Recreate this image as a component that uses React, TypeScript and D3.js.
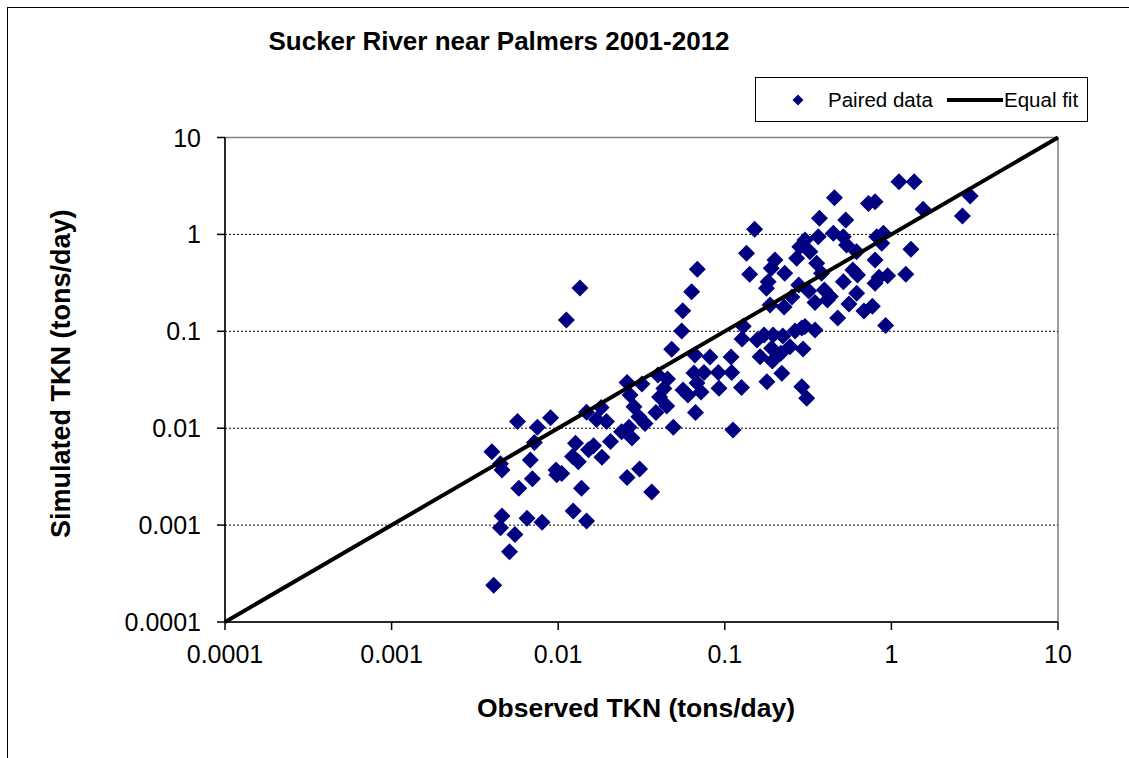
import React from "react";
import * as d3 from "d3";

const observed = [
  0.0040, 0.0045, 0.0046, 0.0057, 0.0075, 0.0090, 0.0072, 0.0068, 0.0070, 0.0058,
  0.0097, 0.0098, 0.0046, 0.0045, 0.0055, 0.0065, 0.0080, 0.0123, 0.0148, 0.0051,
  0.0041, 0.0138, 0.0105, 0.0112, 0.0135, 0.0122, 0.0127, 0.0132, 0.0152, 0.0163,
  0.0183, 0.0206, 0.0148, 0.0181, 0.0170, 0.0195, 0.0240, 0.0277, 0.0266, 0.0259,
  0.0318, 0.0270, 0.0285, 0.0305, 0.0259, 0.0308, 0.0364, 0.0406, 0.0386, 0.0448,
  0.0431, 0.0561, 0.0601, 0.0681, 0.0720, 0.0667, 0.0923, 0.0491, 0.112, 0.0397,
  0.0453, 0.0332, 0.0662, 0.0815, 0.109, 0.0653, 0.075, 0.0914, 0.110, 0.126,
  0.179, 0.220, 0.163, 0.193, 0.191, 0.217, 0.246, 0.129, 0.127, 0.156,
  0.172, 0.195, 0.223, 0.264, 0.290, 0.348, 0.295, 0.290, 0.310, 0.187,
  0.227, 0.253, 0.348, 0.413, 0.556, 0.684, 0.769, 0.476, 0.923, 0.303,
  0.381, 0.626, 0.843, 0.949, 1.22, 0.515, 0.278, 0.319, 0.396, 0.430,
  0.619, 0.455, 0.728, 0.798, 0.370, 0.532, 0.151, 0.135, 0.141, 0.200,
  0.190, 0.229, 0.182, 0.178, 0.282, 0.303, 0.270, 0.324, 0.364, 0.448,
  0.514, 0.538, 0.618, 0.356, 0.587, 0.798, 0.817, 0.798, 1.11, 1.37,
  1.55, 2.97, 2.67, 0.896, 0.875, 1.31, 0.0684, 0.0632, 0.0559, 0.0551,
  0.048,
];

const simulated = [
  0.0057, 0.0043, 0.0037, 0.0117, 0.0102, 0.0128, 0.0071, 0.0047, 0.0030, 0.0024,
  0.0037, 0.0033, 0.00124, 0.00094, 0.00080, 0.00118, 0.00107, 0.0014, 0.0011, 0.00053,
  0.00024, 0.0024, 0.0034, 0.131, 0.279, 0.0051, 0.0070, 0.0045, 0.0060, 0.0066,
  0.0050, 0.0073, 0.0146, 0.0164, 0.0123, 0.0117, 0.0092, 0.0079, 0.0102, 0.0296,
  0.0286, 0.0220, 0.0166, 0.0131, 0.0031, 0.0038, 0.0022, 0.0210, 0.0145, 0.0169,
  0.0257, 0.0248, 0.0220, 0.0293, 0.0237, 0.0145, 0.0258, 0.0102, 0.0096, 0.0354,
  0.0322, 0.0112, 0.0569, 0.0543, 0.0543, 0.0371, 0.0376, 0.0376, 0.0376, 0.0263,
  0.0302, 0.0369, 0.0547, 0.0494, 0.0668, 0.0593, 0.0693, 0.113, 0.0833, 0.0813,
  0.0916, 0.0916, 0.0894, 0.1007, 0.108, 0.103, 0.0656, 0.0268, 0.0204, 0.187,
  0.178, 0.226, 0.198, 0.210, 0.191, 0.162, 0.181, 0.137, 0.115, 0.112,
  0.397, 0.381, 0.361, 0.374, 0.388, 0.325, 0.301, 0.261, 0.267, 0.228,
  0.247, 2.39, 2.09, 2.17, 1.47, 1.41, 1.13, 0.638, 0.388, 0.545,
  0.447, 0.397, 0.325, 0.278, 0.747, 0.875, 0.566, 0.662, 0.946, 1.03,
  0.946, 0.778, 0.662, 0.503, 0.430, 0.545, 0.946, 0.313, 3.50, 3.50,
  1.82, 2.49, 1.55, 1.03, 0.809, 0.702, 0.437, 0.256, 0.163, 0.101,
  0.0652,
];

const tickValues = [0.0001, 0.001, 0.01, 0.1, 1, 10];
const tickLabels = ["0.0001", "0.001", "0.01", "0.1", "1", "10"];
const gridValues = [0.001, 0.01, 0.1, 1];
const fitLine = [0.0001, 10];

const title = "Sucker River near Palmers 2001-2012";
const xTitle = "Observed TKN (tons/day)";
const yTitle = "Simulated TKN (tons/day)";

const FONT = "'Liberation Sans', Arial, sans-serif";
const NAVY = "#000080";

export default function App() {
  const W = 1129;
  const H = 758;
  const left = 225;
  const right = 1058;
  const top = 137.5;
  const bottom = 622;

  const x = d3.scaleLog().domain([0.0001, 10]).range([left, right]);
  const y = d3.scaleLog().domain([0.0001, 10]).range([bottom, top]);

  const diamond = (cx: number, cy: number, r: number) =>
    `M${cx},${cy - r}L${cx + r},${cy}L${cx},${cy + r}L${cx - r},${cy}Z`;

  const line = d3
    .line<number>()
    .x((d) => x(d))
    .y((d) => y(d));

  return (
    <svg
      width={W}
      height={H}
      style={{ position: "absolute", left: 0, top: 0, background: "#fff" }}
      fontFamily={FONT}
    >
      <rect x={0} y={0} width={W} height={H} fill="#fff" />
      {/* outer chart border */}
      <rect x={7.5} y={7.5} width={W + 20} height={H + 20} fill="none" stroke="#000" strokeWidth={1} />

      {/* title */}
      <text x={499} y={50} textAnchor="middle" fontSize={26} fontWeight="bold" fill="#000">
        {title}
      </text>

      {/* plot frame */}
      <rect x={left} y={top} width={right - left} height={bottom - top} fill="#fff" stroke="#808080" strokeWidth={1.5} />

      {/* gridlines */}
      {gridValues.map((g) => (
        <line key={"g" + g} x1={left} x2={right} y1={y(g)} y2={y(g)} stroke="#000" strokeWidth={1} strokeDasharray="2,2" />
      ))}

      {/* axes */}
      <line x1={left} x2={left} y1={top} y2={bottom} stroke="#000" strokeWidth={1.5} />
      <line x1={left} x2={right} y1={bottom} y2={bottom} stroke="#000" strokeWidth={1.5} />

      {tickValues.map((t, i) => (
        <g key={"yt" + t}>
          <line x1={left - 8} x2={left} y1={y(t)} y2={y(t)} stroke="#000" strokeWidth={1.5} />
          <text x={201} y={y(t) + 9} textAnchor="end" fontSize={25} fill="#000">
            {tickLabels[i]}
          </text>
        </g>
      ))}
      {tickValues.map((t, i) => (
        <g key={"xt" + t}>
          <line x1={x(t)} x2={x(t)} y1={bottom} y2={bottom + 8} stroke="#000" strokeWidth={1.5} />
          <text x={x(t)} y={663} textAnchor="middle" fontSize={25} fill="#000">
            {tickLabels[i]}
          </text>
        </g>
      ))}

      {/* axis titles */}
      <text x={636} y={717} textAnchor="middle" fontSize={26.5} fontWeight="bold" fill="#000">
        {xTitle}
      </text>
      <text
        transform={`translate(70,${(top + bottom) / 2 - 6}) rotate(-90)`}
        textAnchor="middle"
        fontSize={27}
        fontWeight="bold"
        fill="#000"
      >
        {yTitle}
      </text>

      {/* points */}
      {observed.map((o, i) => (
        <path key={"p" + i} d={diamond(x(o), y(simulated[i]), 8.5)} fill={NAVY} />
      ))}

      {/* equal fit line */}
      <path d={line(fitLine) || ""} stroke="#000" strokeWidth={4} fill="none" />

      {/* legend */}
      <rect x={755.5} y={77.5} width={332} height={44} fill="#fff" stroke="#000" strokeWidth={1} />
      <path d={diamond(798, 100, 5.5)} fill={NAVY} />
      <text x={828} y={107} fontSize={20.5} fill="#000">
        Paired data
      </text>
      <line x1={947} x2={1003} y1={100} y2={100} stroke="#000" strokeWidth={4} />
      <text x={1004} y={107} fontSize={20.5} fill="#000">
        Equal fit
      </text>
    </svg>
  );
}
